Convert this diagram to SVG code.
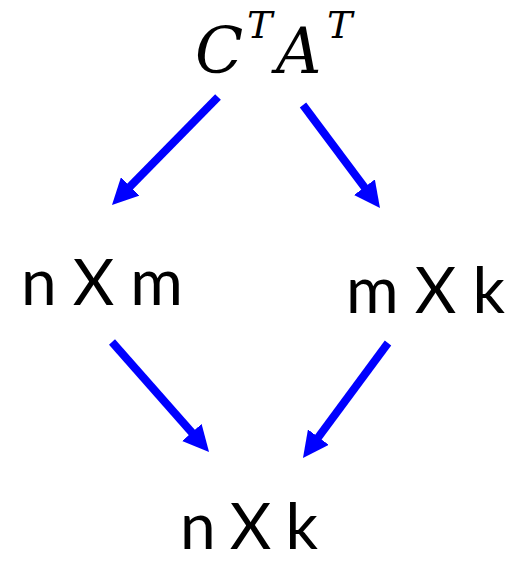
<svg xmlns="http://www.w3.org/2000/svg" width="513" height="562" viewBox="0 0 513 562">
<style>
.lbl{font-family:Lato,"Open Sans","Liberation Sans",sans-serif;font-size:64px;fill:#000}
.math{font-family:"DejaVu Serif","Liberation Serif",serif;font-style:italic;fill:#000}
.arr{stroke:#0000FF;stroke-width:8;fill:none;marker-end:url(#ah)}
</style>
<defs>
<marker id="ah" markerUnits="userSpaceOnUse" markerWidth="26" markerHeight="26" viewBox="0 0 26 26" refX="14" refY="13" orient="auto">
<path d="M0,0 L26,13 L0,26 z" fill="#0000FF"/>
</marker>
</defs>
<g id="top">
<text class="math"><tspan x="195" y="73" font-size="63">C</tspan><tspan x="247" y="38" font-size="38">T</tspan><tspan x="276" y="73" font-size="63">A</tspan><tspan x="327" y="38" font-size="38">T</tspan></text>
</g>
<g id="nxm"><text class="lbl" x="21" y="305" textLength="162">n X m</text></g>
<g id="mxk"><text class="lbl" x="346" y="313" textLength="159">m X k</text></g>
<g id="nxk"><text class="lbl" x="180" y="549" textLength="138">n X k</text></g>
<g id="connectors">
<line class="arr" x1="218" y1="97" x2="120.4" y2="196.4"/>
<line class="arr" x1="303" y1="105" x2="372.8" y2="198.4"/>
<line class="arr" x1="112" y1="342" x2="201.1" y2="443"/>
<line class="arr" x1="388" y1="343" x2="310.1" y2="448.4"/>
</g>
</svg>
